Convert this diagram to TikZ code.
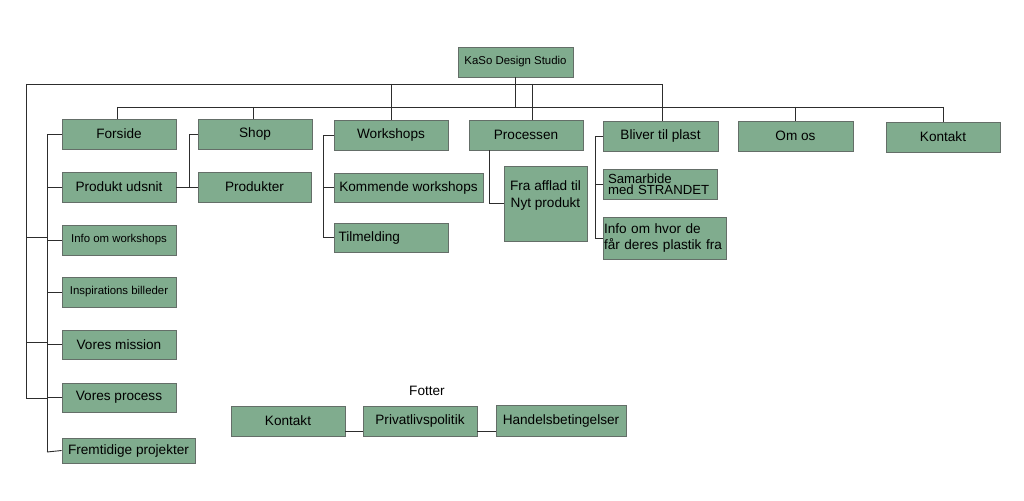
\documentclass[tikz,border=0pt]{standalone}
\usepackage{fontspec}
\setmainfont{Liberation Sans}
\definecolor{boxfill}{RGB}{128,172,142}
\definecolor{boxline}{RGB}{100,110,104}
\definecolor{linec}{RGB}{45,45,45}
\newcommand{\mainf}{\fontsize{13.6}{16}\selectfont}
\newcommand{\smallf}{\fontsize{11.4}{13}\selectfont}
\tikzset{
  box/.style={draw=boxline, fill=boxfill, line width=0.8pt, inner sep=0pt, font=\mainf, text=black},
  sz/.style 2 args={minimum width=#1, minimum height=#2},
  conn/.style={draw=linec, line width=0.9pt},
}
\begin{document}
\begin{tikzpicture}[x=1pt,y=-1pt]
\useasboundingbox (0,0) rectangle (1024,500);
\fill[white] (0,0) rectangle (1024,500);

% top
\node[box, sz={115pt}{30pt}, font=\smallf] (kaso) at (515.5,62) {KaSo Design Studio};

% left column
\node[box, sz={114pt}{30pt}] (forside) at (119,134) {Forside};
\node[box, sz={114pt}{30pt}] (udsnit) at (119,187) {Produkt udsnit};
\node[box, sz={114pt}{30pt}, font=\smallf] (infows) at (119,240) {Info om workshops};
\node[box, sz={114pt}{30pt}, font=\smallf] (insp) at (119,292) {Inspirations billeder};
\node[box, sz={114pt}{29pt}] (mission) at (119,344.5) {Vores mission};
\node[box, sz={114pt}{29pt}] (process) at (119,397.5) {Vores process};
\node[box, sz={133pt}{25pt}] (fremtid) at (128.5,450.5) {Fremtidige projekter};

% shop
\node[box, sz={114pt}{30pt}] (shop) at (255,134) {Shop};
\node[box, sz={113pt}{30pt}] (produkter) at (254.5,187) {Produkter};

% workshops
\node[box, sz={114pt}{30pt}] (workshops) at (391,135) {Workshops};
\node[box, sz={149pt}{29pt}] (kommende) at (408.5,187.5) {Kommende workshops};
\node[box, sz={114pt}{29pt}, text width=105pt, align=left] (tilmelding) at (391,237.5) {Tilmelding};

% processen
\node[box, sz={114pt}{30pt}] (processen) at (526,135) {Processen};
\node[box, sz={83pt}{75pt}] (fra) at (545.5,203.5) {};
\node[font=\mainf, align=center, inner sep=0pt] (fratext) at (545.5,195) {Fra afflad til\\[1pt]Nyt produkt};

% bliver til plast
\node[box, sz={115pt}{30pt}] (bliver) at (660.5,136) {Bliver til plast};
\node[box, sz={114pt}{30pt}, font={\fontsize{13.2}{11.4}\selectfont}, text width=104pt, align=left] (samarb) at (660,184) {Samarbide\\med STRANDET};
\node[box, sz={123pt}{42pt}, text width=121pt, align=left] (infohvor) at (664.5,238) {Info om hvor de\\får deres plastik fra};

% om os, kontakt
\node[box, sz={115pt}{30pt}] (omos) at (795.5,136) {Om os};
\node[box, sz={114pt}{30pt}] (kontakt) at (943,137) {Kontakt};

% footer
\node[font=\mainf, inner sep=0pt] (fotter) at (427,391) {Fotter};
\node[box, sz={114pt}{30pt}] (fkontakt) at (288,421) {Kontakt};
\node[box, sz={114pt}{30pt}] (fpriv) at (420,421) {Privatlivspolitik};
\node[box, sz={130pt}{31pt}] (fhandel) at (561,420.5) {Handelsbetingelser};

% bus coordinates
\coordinate (aL) at (26,84);
\coordinate (aR) at (662,84);
\coordinate (bL) at (117,107);
\coordinate (bR) at (943,107);
\coordinate (kb) at (515.5,107);
\coordinate (aBot) at (26,398);
\coordinate (o1) at (26,237);
\coordinate (o2) at (26,342);
\coordinate (o3) at (26,398);
\coordinate (i1) at (47,237);
\coordinate (i2) at (47,342);
\coordinate (i3) at (47,398);
\coordinate (iTop) at (47,134);
\coordinate (iBot) at (47,452);
\coordinate (shopv) at (189,0);
\coordinate (wsv) at (323,0);
\coordinate (prv) at (489,0);
\coordinate (blv) at (595,0);
\coordinate (a391) at (391,84);
\coordinate (a532) at (532,84);
\coordinate (b253) at (253,107);
\coordinate (b795) at (795,107);

% top buses
\draw[conn] (kaso.south) -- (kb);
\draw[conn] (aL) -- (aR);
\draw[conn] (bL) -- (bR);
\draw[conn] (aL) -- (aBot);
\draw[conn] (bL) -- (bL |- forside.north);
\draw[conn] (b253) -- (b253 |- shop.north);
\draw[conn] (a391) -- (a391 |- workshops.north);
\draw[conn] (a532) -- (a532 |- processen.north);
\draw[conn] (aR) -- (aR |- bliver.north);
\draw[conn] (b795) -- (b795 |- omos.north);
\draw[conn] (bR) -- (kontakt.north);

% left column
\draw[conn] (o1) -- (i1);
\draw[conn] (o2) -- (i2);
\draw[conn] (o3) -- (i3);
\draw[conn] (iTop) -- (iBot);
\draw[conn] (iTop) -- (forside.west);
\draw[conn] (iTop |- udsnit.west) -- (udsnit.west);
\draw[conn] (iTop |- infows.west) -- (infows.west);
\draw[conn] (iTop |- insp.west) -- (insp.west);
\draw[conn] (iTop |- mission.west) -- (mission.west);
\draw[conn] (iTop |- process.west) -- (process.west);
\draw[conn] (iBot) -- (fremtid.west);

% shop
\draw[conn] (shopv |- shop.west) -- (shopv |- produkter.west);
\draw[conn] (shopv |- shop.west) -- (shop.west);
\draw[conn] (udsnit.east) -- (produkter.west);

% workshops
\draw[conn] (wsv |- workshops.west) -- (wsv |- tilmelding.west);
\draw[conn] (wsv |- workshops.west) -- (workshops.west);
\draw[conn] (wsv |- kommende.west) -- (kommende.west);
\draw[conn] (wsv |- tilmelding.west) -- (tilmelding.west);

% processen
\draw[conn] (prv |- processen.south) |- (fra.west);

% bliver
\draw[conn] (blv |- bliver.west) -- (blv |- infohvor.west);
\draw[conn] (blv |- bliver.west) -- (bliver.west);
\draw[conn] (blv |- samarb.west) -- (samarb.west);
\draw[conn] (blv |- infohvor.west) -- (infohvor.west);

% footer
\draw[conn] ([yshift=-10pt]fkontakt.east) -- ([yshift=-10pt]fpriv.west);
\draw[conn] ([yshift=-10pt]fpriv.east) -- ([yshift=-10.5pt]fhandel.west);
\end{tikzpicture}
\end{document}
